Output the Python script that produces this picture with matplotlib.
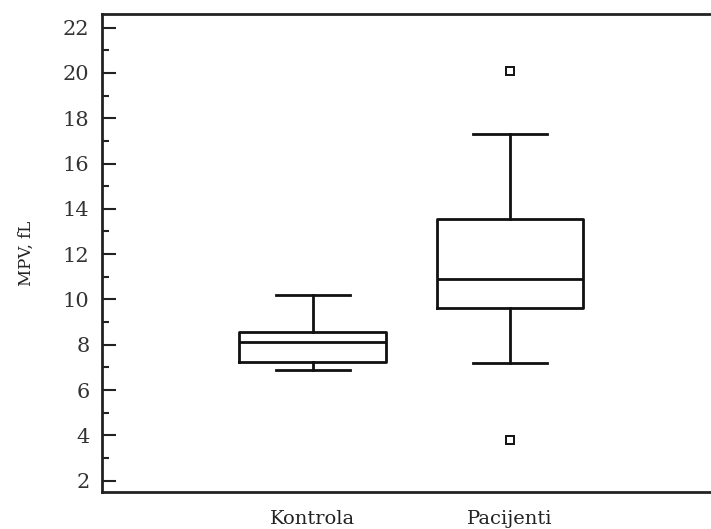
import matplotlib
matplotlib.use("Agg")
import matplotlib.pyplot as plt
from matplotlib.ticker import MultipleLocator

groups = ["Kontrola", "Pacijenti"]
medians = [8.1, 10.9]
q1 = [7.25, 9.62]
q3 = [8.58, 13.55]
whislo = [6.9, 7.2]
whishi = [10.2, 17.3]
outliers = [[], [20.1, 3.8]]

plt.rcParams['font.family'] = ['DejaVu Serif']

fig = plt.figure(figsize=(7.11, 5.29), dpi=100)
ax = fig.add_axes([102/711, (529-492)/529, (711-102)/711, (492-14)/529])

stats = []
for i, g in enumerate(groups):
    stats.append(dict(label=g, med=medians[i], q1=q1[i], q3=q3[i],
                      whislo=whislo[i], whishi=whishi[i], fliers=outliers[i]))

lw = 2.0
ax.bxp(stats, positions=[1, 2], widths=0.745, capwidths=0.375,
       boxprops=dict(color='#111111', linewidth=lw),
       medianprops=dict(color='#111111', linewidth=lw),
       whiskerprops=dict(color='#111111', linewidth=lw),
       capprops=dict(color='#111111', linewidth=lw),
       flierprops=dict(marker='s', markersize=6, markerfacecolor='white',
                       markeredgecolor='#111111', markeredgewidth=1.4))

ax.set_xlim(-0.07, 3.02)
ax.set_ylim(1.5, 22.6)
ax.yaxis.set_major_locator(MultipleLocator(2))
ax.yaxis.set_minor_locator(MultipleLocator(1))
ax.tick_params(axis='y', which='major', direction='in', length=10, width=1.5,
               labelsize=15, pad=9, color='#222222', labelcolor='#333333')
ax.tick_params(axis='y', which='minor', direction='in', length=5, width=1.5,
               color='#222222')
ax.tick_params(axis='x', which='both', length=0, labelsize=14, pad=13,
               labelcolor='#222222')
ax.set_xticks([1, 2])
ax.set_xticklabels(groups)
for s in ['left', 'bottom', 'top']:
    ax.spines[s].set_linewidth(2)
    ax.spines[s].set_color('#222222')
ax.spines['right'].set_visible(False)
ax.set_ylabel("MPV, fL", fontsize=12, labelpad=20, color='#222222')

fig.savefig("out.png", dpi=100)
